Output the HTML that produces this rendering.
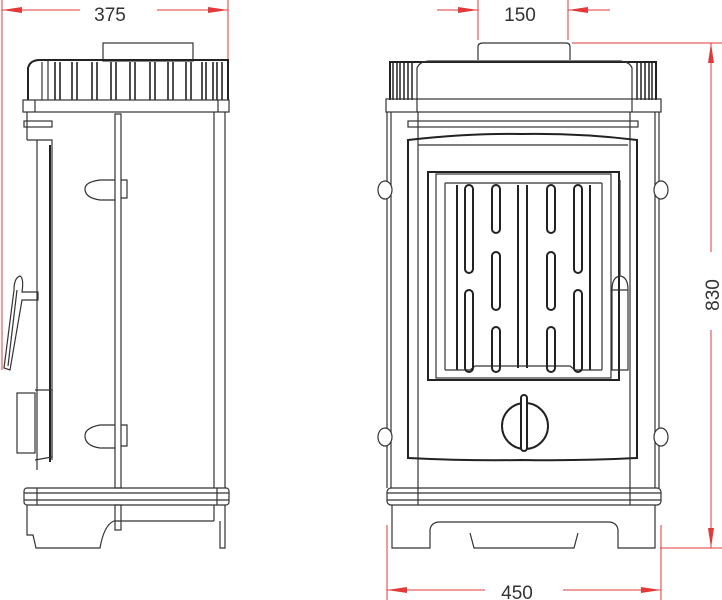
<!DOCTYPE html>
<html><head><meta charset="utf-8"><style>
html,body{margin:0;padding:0;background:#fff;width:722px;height:600px;overflow:hidden}
svg{display:block}
text{font-family:"Liberation Sans",sans-serif;fill:#333;font-size:19px}
.k{stroke:#333;stroke-width:1.2;fill:none}
.t{stroke:#222;stroke-width:2;fill:none}
.r{stroke:#e23a3a;stroke-width:1;fill:none}
.ra{fill:#e23a3a}
</style></head><body>
<svg width="722" height="600" viewBox="0 0 722 600">
<!-- 375 -->
<line class="r" x1="2" y1="0" x2="2" y2="370"/>
<line class="r" x1="228" y1="0" x2="228" y2="100"/>
<line class="r" x1="2" y1="10" x2="80" y2="10"/>
<line class="r" x1="157" y1="10" x2="228" y2="10"/>
<polygon class="ra" points="2,10 22,7 22,13"/>
<polygon class="ra" points="228,10 208,7 208,13"/>
<text x="110" y="21" text-anchor="middle">375</text>
<!-- 150 -->
<line class="r" x1="478" y1="0" x2="478" y2="40"/>
<line class="r" x1="568" y1="0" x2="568" y2="40"/>
<line class="r" x1="437" y1="10" x2="478" y2="10"/>
<line class="r" x1="568" y1="10" x2="610" y2="10"/>
<polygon class="ra" points="478,10 458,7 458,13"/>
<polygon class="ra" points="568,10 588,7 588,13"/>
<text x="520" y="21" text-anchor="middle">150</text>
<!-- 830 -->
<line class="r" x1="572" y1="43" x2="722" y2="43"/>
<line class="r" x1="660" y1="548" x2="722" y2="548"/>
<line class="r" x1="711" y1="43" x2="711" y2="252"/>
<line class="r" x1="711" y1="330" x2="711" y2="548"/>
<polygon class="ra" points="711,43 708,63 714,63"/>
<polygon class="ra" points="711,548 708,528 714,528"/>
<text x="719" y="295" text-anchor="middle" transform="rotate(-90 719 295)">830</text>
<!-- 450 -->
<line class="r" x1="387" y1="525" x2="387" y2="600"/>
<line class="r" x1="661" y1="525" x2="661" y2="600"/>
<line class="r" x1="387" y1="590" x2="485" y2="590"/>
<line class="r" x1="563" y1="590" x2="661" y2="590"/>
<polygon class="ra" points="387,590 407,587 407,593"/>
<polygon class="ra" points="661,590 641,587 641,593"/>
<text x="517" y="599" text-anchor="middle">450</text>

<!-- side view -->
<rect class="k" x="103" y="43" width="90" height="18"/>
<path class="t" d="M28,100 L28,68 Q30,60 40,60 L228,60 L228,100"/>
<g class="k">
<line x1="42" y1="62" x2="42" y2="100"/>
<line x1="48" y1="60" x2="48" y2="100"/>
<path d="M55,62v38M60,62v38M72,62v38M77,62v38M92,62v38M97,62v38M111,62v38M116,62v38M130,62v38M135,62v38M150,62v38M155,62v38M168,62v38M173,62v38M186,62v38M191,62v38M202,62v38M206,62v38M213,62v38M217,62v38M222,62v38" stroke="#222" stroke-width="1.6"/>
</g>
<rect class="k" x="23" y="100" width="206" height="12"/>
<line class="k" x1="35" y1="100" x2="35" y2="112"/>
<line class="k" x1="218" y1="100" x2="218" y2="112"/>
<line class="k" x1="27" y1="112" x2="27" y2="140"/>
<rect class="k" x="24" y="121" width="28" height="6"/>
<path class="k" d="M27,140 L52,140 L52,195 M37,140 L37,470 M52,140 L52,460"/>
<path class="t" d="M50,145 L50,462" />
<line class="k" x1="225" y1="112" x2="225" y2="488"/>
<line class="k" x1="214" y1="112" x2="214" y2="488"/>
<rect class="k" x="115" y="114" width="6" height="374"/>
<rect class="k" x="115" y="505" width="6" height="25"/>
<path class="k" d="M115,180 L100,180 Q84,182 85,190 Q86,198 100,200 L115,200 M121,180 L127,180 L127,198 L121,198"/>
<path class="k" d="M115,425 L100,425 Q84,428 85,437 Q86,446 100,448 L115,448 M121,425 L127,425 L127,446 L121,446"/>
<path class="k" d="M20,276 Q14,278 14,290 L4,368 L10,370 L22,300 L38,300 L38,292 L22,292 Q24,278 20,276 Z"/>
<path class="k" d="M17,290 L8,366"/>
<rect class="k" x="17" y="393" width="18" height="60"/>
<path class="k" d="M35,390 L52,390 L52,457 L35,460"/>
<rect class="k" x="24" y="488" width="205" height="17" rx="3"/>
<line class="k" x1="24" y1="493" x2="229" y2="493"/>
<line class="k" x1="24" y1="500" x2="229" y2="500"/>
<line class="k" x1="37" y1="488" x2="37" y2="505"/>
<line class="k" x1="217" y1="488" x2="217" y2="505"/>
<path class="k" d="M27,505 L27,535 L33,535 L36,548 L100,548 Q104,525 114,521 L214,521 M214,505 L214,521 M220,521 L220,548 L225,548 L225,505"/>

<!-- front view -->
<path class="k" d="M478,60 L478,47 Q478,43 483,43 L566,43 Q570,43 570,47 L570,60"/>
<path class="t" d="M390,100 L390,62 L656,62 L656,100"/>
<path class="k" d="M417,100 L417,68 Q420,61 430,61 L620,61 Q630,62 632,68 L632,100"/>
<path d="M393,62v38M397,62v38M400,62v38M404,62v38M408,62v38M412,62v38M637,62v38M641,62v38M645,62v38M649,62v38M652,62v38" stroke="#222" stroke-width="1.5"/>
<rect class="k" x="386" y="99" width="275" height="13"/>
<line class="k" x1="417" y1="99" x2="417" y2="112"/>
<line class="k" x1="632" y1="99" x2="632" y2="112"/>
<path class="k" d="M387,112 L387,488 M391,112 L391,488 M418,112 L418,488 M630,112 L630,488 M655,112 L655,488 M659,112 L659,488"/>
<rect class="k" x="408" y="121" width="230" height="6"/>
<ellipse cx="385" cy="190" rx="7" ry="9" fill="#fff" stroke="#333" stroke-width="1.2"/>
<ellipse cx="661" cy="190" rx="7" ry="9" fill="#fff" stroke="#333" stroke-width="1.2"/>
<ellipse cx="385" cy="437" rx="7" ry="9" fill="#fff" stroke="#333" stroke-width="1.2"/>
<ellipse cx="661" cy="437" rx="7" ry="9" fill="#fff" stroke="#333" stroke-width="1.2"/>
<path class="t" d="M408,458 L408,140 Q470,133 522,134 Q580,133 637,140 L637,458 Q580,461 522,460 Q470,461 408,458 Z"/>
<path class="k" d="M418,145 L628,145"/>
<rect class="t" x="428" y="172" width="191" height="208"/>
<rect class="k" x="436" y="174" width="175" height="204"/>
<line class="k" x1="445" y1="183" x2="602" y2="183"/>
<g class="t">
<line x1="457" y1="185" x2="457" y2="370"/>
<line x1="518" y1="185" x2="518" y2="368"/><line x1="527" y1="185" x2="527" y2="368"/>
<line x1="590" y1="185" x2="590" y2="370"/>
</g>
<path class="k" d="M445,183 L445,370 M602,183 L602,370 M445,370 L470,370 L475,366 L570,366 L575,370 L602,370"/>
<g fill="none" stroke="#222" stroke-width="2">
<rect x="465" y="185" width="8" height="88" rx="4"/>
<rect x="492" y="185" width="8" height="48" rx="4"/>
<rect x="492" y="252" width="8" height="58" rx="4"/>
<rect x="492" y="327" width="8" height="45" rx="4"/>
<rect x="465" y="290" width="8" height="82" rx="4"/>
<rect x="547" y="185" width="8" height="48" rx="4"/>
<rect x="547" y="252" width="8" height="58" rx="4"/>
<rect x="547" y="327" width="8" height="45" rx="4"/>
<rect x="574" y="185" width="8" height="88" rx="4"/>
<rect x="574" y="290" width="8" height="82" rx="4"/>
</g>
<path class="k" d="M612,370 L612,290 Q612,277 620,276 Q628,277 628,290 L628,370 Z M612,290 L628,290"/>
<line class="k" x1="620" y1="180" x2="620" y2="276"/>
<circle cx="525" cy="426" r="23" fill="none" stroke="#222" stroke-width="2"/>
<rect x="521" y="395" width="6" height="56" rx="3" fill="#fff" stroke="#222" stroke-width="2"/>
<rect class="k" x="387" y="488" width="274" height="17" rx="4"/>
<line class="k" x1="387" y1="493" x2="661" y2="493"/>
<line class="k" x1="387" y1="500" x2="661" y2="500"/>
<line class="k" x1="418" y1="488" x2="418" y2="505"/>
<line class="k" x1="630" y1="488" x2="630" y2="505"/>
<path class="k" d="M392,505 L392,548 L430,548 L430,530 Q431,522 440,522 L608,522 Q617,522 618,530 L618,548 L655,548 L655,505"/>
<path class="k" d="M470,533 L474,548 L574,548 L578,533"/>
</svg>
</body></html>
